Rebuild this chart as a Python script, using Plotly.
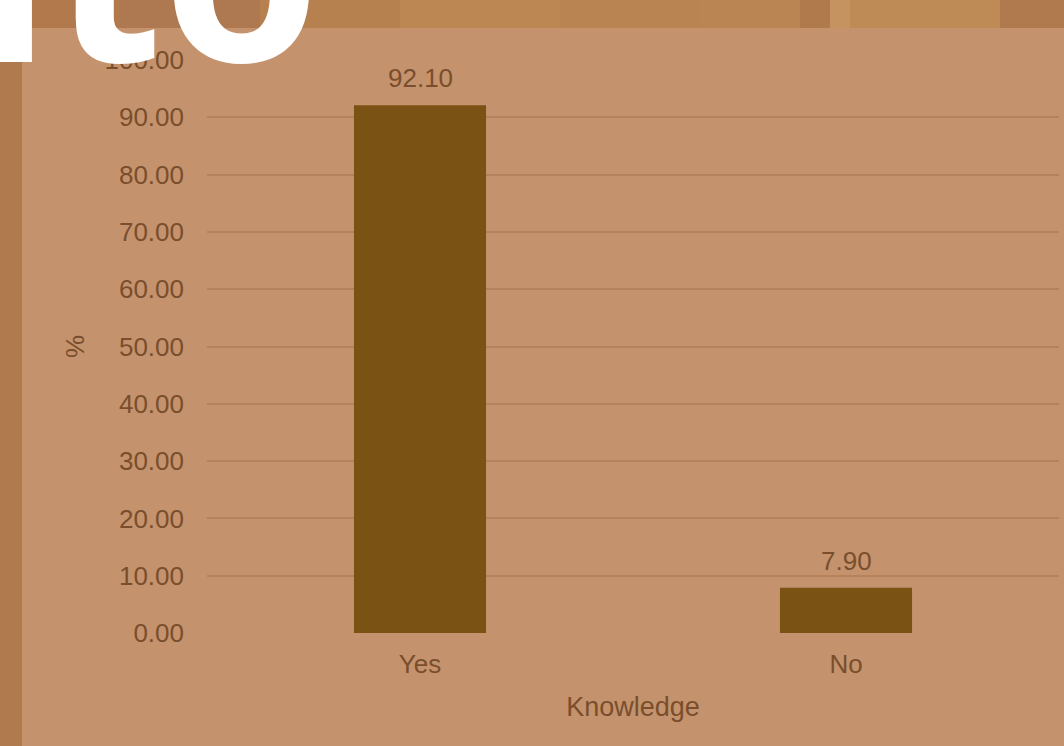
import plotly.graph_objects as go

categories = ["Yes", "No"]
values = [92.10, 7.90]
y_ticks = [0, 10, 20, 30, 40, 50, 60, 70, 80, 90, 100]
y_tick_labels = ["0.00", "10.00", "20.00", "30.00", "40.00", "50.00", "60.00", "70.00", "80.00", "90.00", "100.00"]

W, H = 1064, 746
L, R, T, B = 207, 5, 60, 113
pw = W - L - R
ph = H - T - B

def px(x):
    return (x - L) / pw

def py(y):
    return (H - B - y) / ph

text_col = "#7A4E2C"
panel = "#C4936D"
grid = "#B5825B"
FONT = "Liberation Sans, Arial"

fig = go.Figure()
fig.add_trace(go.Bar(
    x=categories, y=values, width=0.31,
    marker=dict(color="#7A5214", line=dict(width=0)),
    cliponaxis=False,
))

annotations = []
for c, v in zip(categories, values):
    annotations.append(dict(
        x=c, y=v, xref="x", yref="y", text=f"{v:.2f}", showarrow=False,
        yanchor="bottom", yshift=10, font=dict(size=26, color=text_col, family=FONT),
    ))

shapes = []
wood = [(0, 120, "#B27A4C"), (120, 260, "#AE7850"), (260, 400, "#B6804F"), (400, 560, "#BC8752"),
        (560, 700, "#B98451"), (700, 800, "#BA8453"), (800, 830, "#B07A4D"), (830, 850, "#C4935F"),
        (850, 1000, "#BE8A55"), (1000, 1064, "#B07A4E")]
for x0, x1, c in wood:
    shapes.append(dict(type="rect", xref="paper", yref="paper", x0=px(x0), x1=px(x1), y0=py(0), y1=py(30),
                       fillcolor=c, line=dict(width=0), layer="below"))
shapes.append(dict(type="rect", xref="paper", yref="paper", x0=px(0), x1=px(22), y0=py(746), y1=py(0),
                   fillcolor="#B17A4E", line=dict(width=0), layer="below"))
shapes.append(dict(type="rect", xref="paper", yref="paper", x0=px(22), x1=px(1064), y0=py(746), y1=py(28),
                   fillcolor=panel, line=dict(width=0), layer="below"))

annotations.append(dict(
    text="<b>ito</b>", xref="paper", yref="paper", x=px(-28), y=py(139),
    xanchor="left", yanchor="bottom", showarrow=False,
    font=dict(size=255, color="white", family="Open Sans, Noto Sans"),
))

fig.update_layout(
    width=W, height=H,
    margin=dict(l=L, r=R, t=T, b=B, autoexpand=False),
    paper_bgcolor="#B98451",
    plot_bgcolor="rgba(0,0,0,0)",
    showlegend=False,
    shapes=shapes,
    font=dict(family=FONT, color=text_col),
    xaxis=dict(
        range=[-0.5, 1.5], showgrid=False, zeroline=False, showline=False,
        tickfont=dict(size=26, color=text_col), ticks="", ticklabelstandoff=13,
        title=dict(text="Knowledge", font=dict(size=27, color=text_col), standoff=19),
    ),
    yaxis=dict(
        range=[0, 100], tickvals=y_ticks, ticktext=y_tick_labels,
        showgrid=True, gridcolor=grid, gridwidth=2, zeroline=False, showline=False,
        tickfont=dict(size=26, color=text_col), ticks="", ticklabelstandoff=22,
        title=dict(text="%", font=dict(size=26, color=text_col), standoff=12),
    ),
    annotations=annotations,
)

fig.write_html("out.html", config={"displayModeBar": False},
               post_script="document.body.style.margin='0';document.body.style.padding='0';")
